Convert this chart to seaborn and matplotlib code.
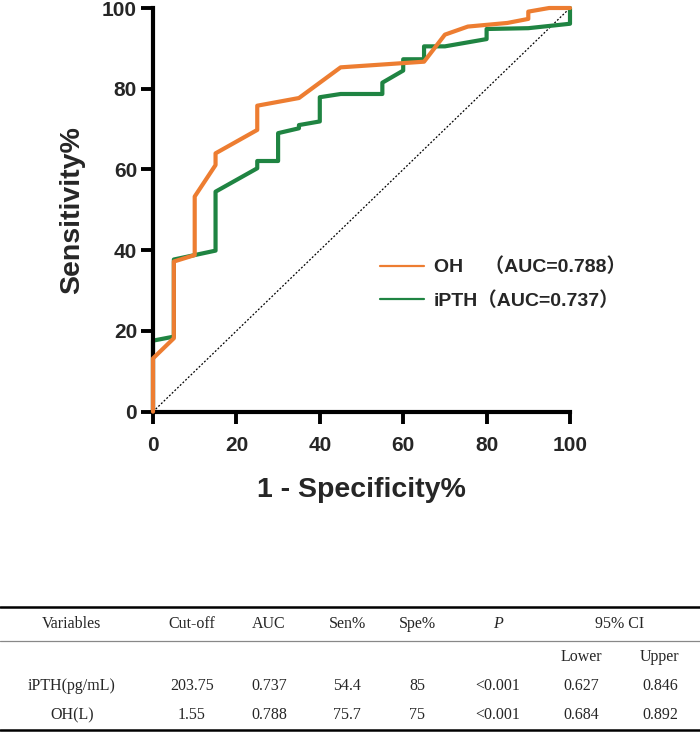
import matplotlib
matplotlib.use("Agg")
import matplotlib.pyplot as plt
import seaborn as sns
import pandas as pd
from matplotlib.lines import Line2D

# ROC curve points (1 - specificity %, sensitivity %)
oh_fpr = [0, 0, 5, 5, 10, 10, 15, 15, 25, 25, 35, 45, 65, 70, 75.5, 85, 90, 90, 95, 100]
oh_tpr = [0, 13.2, 18.2, 37.2, 38.8, 53.3, 61.1, 64.0, 69.8, 75.8, 77.7, 85.3, 86.7, 93.4, 95.4, 96.3, 97.3, 99.1, 100, 100]
ipth_fpr = [0, 0, 5, 5, 15, 15, 25, 25, 30, 30, 35, 35, 40, 40, 45, 55, 55, 60, 60, 65, 65, 70, 80, 80, 90, 100, 100]
ipth_tpr = [0, 17.6, 18.6, 37.7, 39.9, 54.5, 60.3, 62.1, 62.1, 69.0, 70.2, 71.0, 71.9, 77.9, 78.7, 78.7, 81.5, 84.5, 87.3, 87.3, 90.5, 90.5, 92.3, 94.8, 95.0, 96.1, 100]
labels = ["OH    （AUC=0.788）", "iPTH（AUC=0.737）"]

# table contents
tbl_header = ["Variables", "Cut-off", "AUC", "Sen%", "Spe%", "P", "95% CI"]
tbl_sub = ["Lower", "Upper"]
tbl_rows = [
    ["iPTH(pg/mL)", "203.75", "0.737", "54.4", "85", "<0.001", "0.627", "0.846"],
    ["OH(L)", "1.55", "0.788", "75.7", "75", "<0.001", "0.684", "0.892"],
]

sns.set_style("ticks")
plt.rcParams["font.family"] = ["Liberation Sans", "Noto Sans CJK SC", "DejaVu Sans"]

W, H = 700, 732
fig = plt.figure(figsize=(7, 7.32), dpi=100)
ax = fig.add_axes([153 / W, 1 - 411.7 / H, (570 - 153) / W, (411.7 - 8) / H])

orange = "#ED7D31"
green = "#1F8442"

ax.plot([0, 100], [0, 100], ls=(0, (1.5, 1.5)), color="black", lw=0.9, zorder=1)
df_i = pd.DataFrame({"x": ipth_fpr, "y": ipth_tpr})
df_o = pd.DataFrame({"x": oh_fpr, "y": oh_tpr})
sns.lineplot(data=df_i, x="x", y="y", sort=False, estimator=None, color=green, lw=3, ax=ax, zorder=2, clip_on=False)
sns.lineplot(data=df_o, x="x", y="y", sort=False, estimator=None, color=orange, lw=3, ax=ax, zorder=3, clip_on=False)

ax.set_xlim(0, 100)
ax.set_ylim(0, 100)
ax.set_xticks(range(0, 101, 20))
ax.set_yticks(range(0, 101, 20))
for s in ["top", "right"]:
    ax.spines[s].set_visible(False)
for s in ["left", "bottom"]:
    ax.spines[s].set_linewidth(3)
    ax.spines[s].set_color("black")
ax.tick_params(axis="both", length=8.5, width=2.8, color="black", labelsize=15, pad=3)
ax.tick_params(axis="x", pad=9)
for t in ax.get_xticklabels() + ax.get_yticklabels():
    t.set_fontweight("bold")
ax.set_xlabel("1 - Specificity%", fontsize=20.5, fontweight="bold", labelpad=16)
ax.set_ylabel("Sensitivity%", fontsize=20.5, fontweight="bold", labelpad=12)

handles = [Line2D([], [], color=orange, lw=1.6), Line2D([], [], color=green, lw=1.6)]
ax.legend(handles, labels, frameon=False, loc="center left",
          bbox_to_anchor=((362 - 153) / (570 - 153), (411.7 - 284) / (411.7 - 8)),
          prop={"weight": "bold", "size": 14}, handlelength=2.3, handletextpad=0.5,
          labelspacing=0.78)

# table drawn in figure coordinates
def fy(py):
    return 1 - py / H

col_x = [72, 192, 269, 347, 417, 498]
ci_x = [581, 660]
ci_center = 620
tfont = dict(family=["Liberation Serif", "DejaVu Serif"], fontsize=11.5, ha="center", va="center")

fig.add_artist(Line2D([0, 1], [fy(607), fy(607)], color="black", lw=1.8))
fig.add_artist(Line2D([0, 1], [fy(641), fy(641)], color="#888888", lw=0.9))
fig.add_artist(Line2D([0, 1], [fy(730), fy(730)], color="black", lw=1.8))

for x, txt in zip(col_x, tbl_header[:6]):
    fig.text(x / W, fy(624), txt, style="italic" if txt == "P" else "normal", **tfont)
fig.text(ci_center / W, fy(624), tbl_header[6], **tfont)
for x, txt in zip(ci_x, tbl_sub):
    fig.text(x / W, fy(657), txt, **tfont)
for py, row in zip([686, 715], tbl_rows):
    for x, txt in zip(col_x + ci_x, row):
        fig.text(x / W, fy(py), txt, **tfont)

fig.savefig("out.png", dpi=100)
